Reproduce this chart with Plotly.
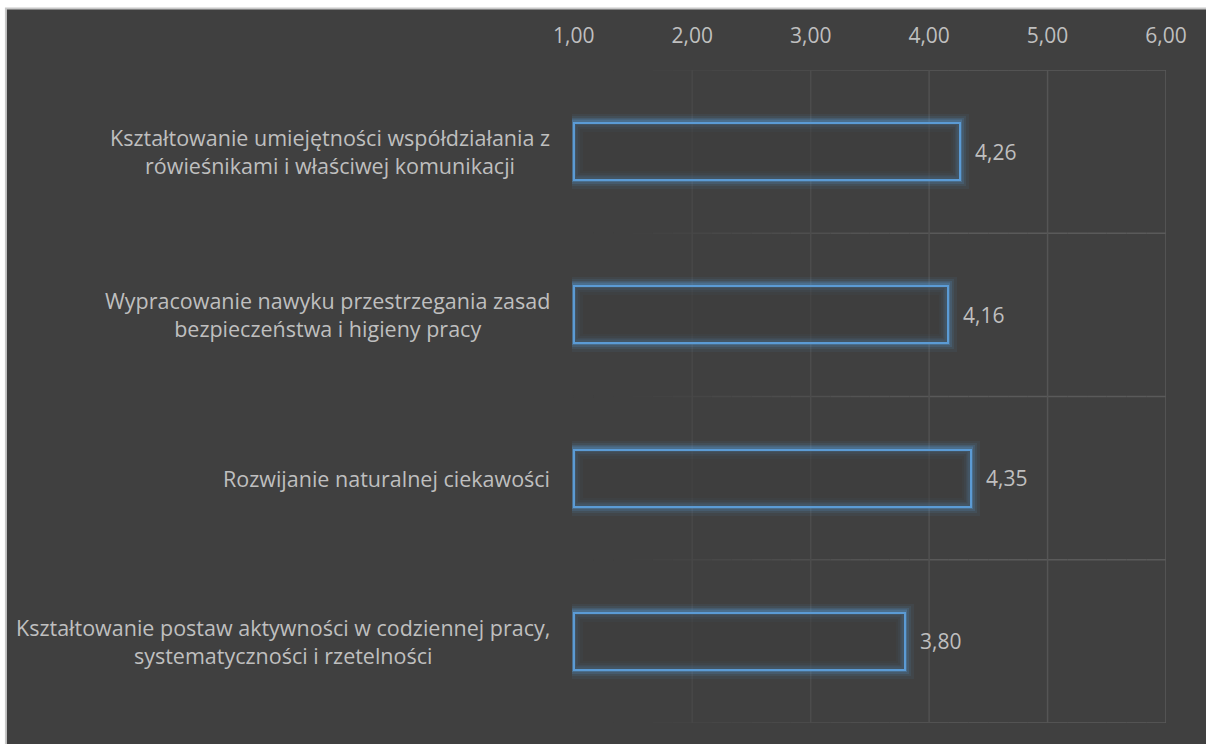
import plotly.graph_objects as go

# Survey results: mean rating per educational goal (scale 1-6)
categories = [
    "Kształtowanie umiejętności współdziałania z<br>rówieśnikami i właściwej komunikacji",
    "Wypracowanie nawyku przestrzegania zasad<br>bezpieczeństwa i higieny pracy",
    "Rozwijanie naturalnej ciekawości",
    "Kształtowanie postaw aktywności w codziennej pracy,<br>systematyczności i rzetelności",
]
values = [4.26, 4.16, 4.35, 3.80]
tick_values = [1, 2, 3, 4, 5, 6]
tick_labels = ["1,00", "2,00", "3,00", "4,00", "5,00", "6,00"]

AXIS_MIN = 1.0
BG = "#404040"
TEXT = "#bfbfbf"
BLUE = "91,155,213"
FONT = "Open Sans"

lengths = [v - AXIS_MIN for v in values]
fig = go.Figure()

# soft glow around the bar outlines: wide, faint strokes underneath
for width, alpha in [(18, 0.07), (13, 0.11), (9, 0.17), (5.5, 0.30)]:
    fig.add_trace(go.Bar(
        y=categories, x=lengths, base=AXIS_MIN, orientation="h", width=0.35,
        marker=dict(color="rgba(0,0,0,0)", line=dict(color=f"rgba({BLUE},{alpha})", width=width)),
        hoverinfo="skip", showlegend=False,
    ))

# the outlined bars
fig.add_trace(go.Bar(
    y=categories, x=lengths, base=AXIS_MIN, orientation="h", width=0.35,
    marker=dict(color="rgba(60,60,60,0.5)", line=dict(color=f"rgb({BLUE})", width=2)),
    showlegend=False,
))

# value labels
for cat, v in zip(categories, values):
    fig.add_annotation(
        x=v, y=cat, xref="x", yref="y", text=f"{v:.2f}".replace(".", ","),
        showarrow=False, xanchor="left", xshift=13,
        font=dict(family=FONT, size=21, color=TEXT),
    )

# category labels: lines centred, block right-aligned against the plot
for cat in categories:
    fig.add_annotation(
        x=AXIS_MIN, y=cat, xref="x", yref="y", text=cat,
        showarrow=False, xanchor="right", xshift=-22, align="center",
        font=dict(family=FONT, size=21.5, color=TEXT),
    )


def faded_hline(y, n=30):
    """Horizontal separator that fades out toward the left."""
    step = (tick_values[-1] - AXIS_MIN) / n
    for i in range(n):
        t = (i + 0.5) / n
        a = max(0.0, min(1.0, (t - 0.08) / 0.55))
        c = int(64 + (90 - 64) * a)
        fig.add_shape(type="line", xref="x", yref="y",
                      x0=AXIS_MIN + i * step, x1=AXIS_MIN + (i + 1) * step, y0=y, y1=y,
                      line=dict(color=f"rgb({c},{c},{c})", width=1.5), layer="below")


for k in range(len(categories) + 1):
    faded_hline(k - 0.5)

# vertical gridlines, fainter toward the left
for tv in tick_values[1:]:
    t = (tv - tick_values[0]) / (tick_values[-1] - tick_values[0])
    c = int(68 + (90 - 68) * t)
    fig.add_shape(type="line", xref="x", yref="y", x0=tv, x1=tv, y0=-0.5, y1=len(categories) - 0.5,
                  line=dict(color=f"rgb({c},{c},{c})", width=1.5), layer="below")

# dark chart panel with light frame
fig.add_shape(type="rect", xref="paper", yref="paper",
              x0=-0.953, x1=1.2, y0=-0.1, y1=1.094,
              fillcolor=BG, line=dict(color="#c8c8c8", width=2), layer="below")

fig.update_layout(
    width=1206, height=744,
    margin=dict(l=572, r=40, t=70, b=21),
    paper_bgcolor="white", plot_bgcolor=BG,
    barmode="overlay", bargap=0,
    font=dict(family=FONT, color=TEXT),
    xaxis=dict(
        side="top", range=[0.985, 6.0], tickvals=tick_values, ticktext=tick_labels,
        showgrid=False, zeroline=False, showline=False, ticks="",
        tickfont=dict(family=FONT, size=21, color=TEXT), ticklabelstandoff=22,
    ),
    yaxis=dict(
        range=[len(categories) - 0.5, -0.5], showticklabels=False, showgrid=False,
        zeroline=False, showline=False, ticks="",
    ),
)

fig.write_html("out.html")
